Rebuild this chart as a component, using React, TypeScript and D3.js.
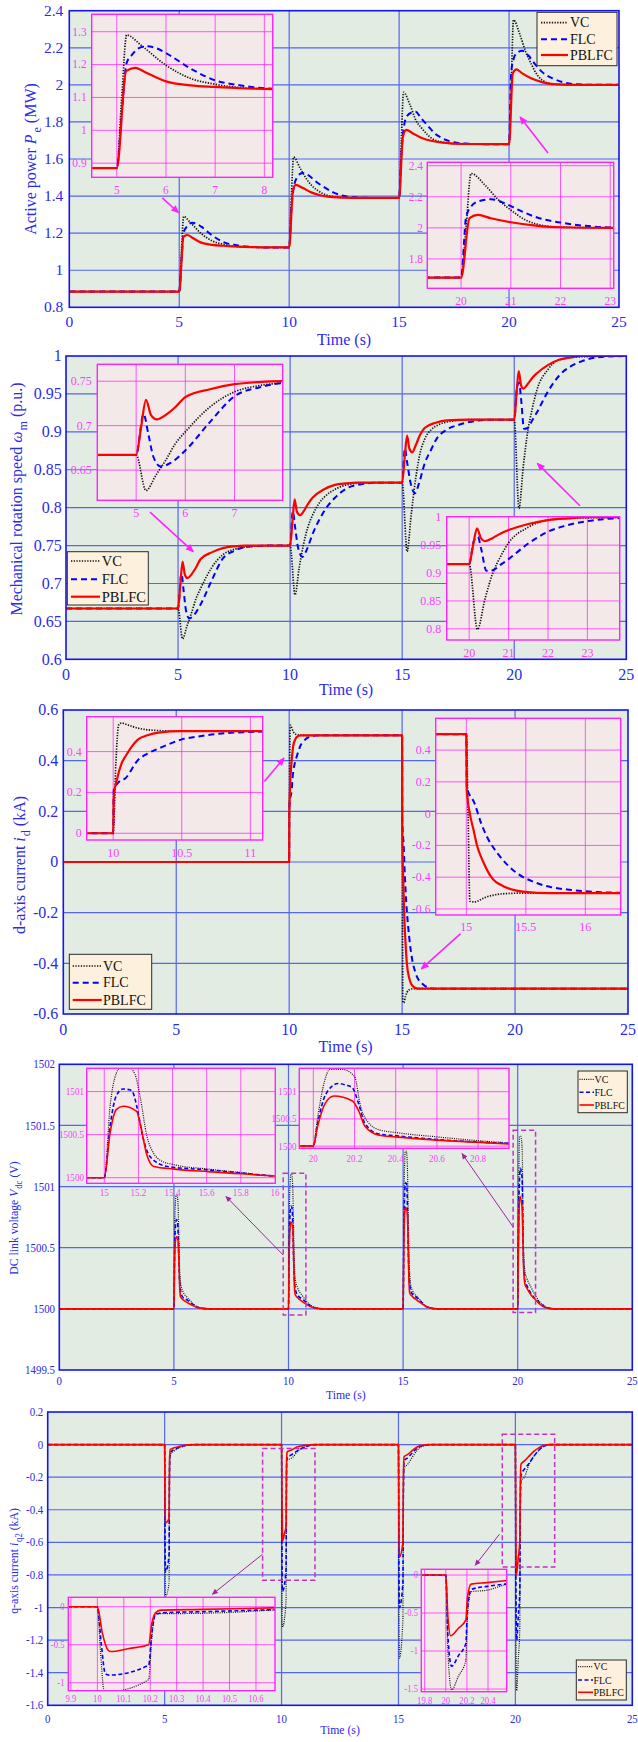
import React from 'react';
import * as d3 from 'd3';

type Pt = [number, number];

// ---------- time axis ----------
const timeTicks = [0, 5, 10, 15, 20, 25];

// ---------- active power Pe (MW) ----------
const peVC: Pt[] = [[0,0.885],[5,0.885],[5.1,1.1],[5.2,1.29],[5.5,1.258],[6,1.198],[6.5,1.158],[7,1.14],[7.5,1.13],[8,1.126],[9,1.123],[10,1.123],[10.1,1.4],[10.2,1.61],[10.5,1.55],[10.8,1.49],[11,1.46],[11.3,1.43],[11.5,1.415],[12,1.397],[12.5,1.391],[13,1.39],[15,1.39],[15.1,1.7],[15.2,1.96],[15.5,1.89],[15.8,1.8],[16,1.77],[16.3,1.73],[16.5,1.71],[17,1.69],[17.5,1.682],[18,1.68],[20,1.68],[20.1,2.0],[20.2,2.35],[20.48,2.276],[20.75,2.18],[21,2.115],[21.3,2.05],[21.5,2.026],[22,2.004],[23,2.0],[25,2.0]];
const peFLC: Pt[] = [[0,0.885],[5,0.885],[5.1,1.05],[5.2,1.205],[5.3,1.228],[5.45,1.25],[5.6,1.256],[5.8,1.25],[6,1.235],[6.5,1.188],[7,1.152],[7.5,1.137],[8,1.128],[9,1.123],[10,1.123],[10.1,1.33],[10.2,1.44],[10.35,1.5],[10.6,1.525],[10.9,1.51],[11.2,1.48],[11.5,1.455],[12,1.42],[12.5,1.4],[13,1.393],[14,1.39],[15,1.39],[15.1,1.62],[15.2,1.76],[15.35,1.83],[15.6,1.852],[15.75,1.855],[16,1.82],[16.3,1.78],[16.6,1.74],[17,1.71],[17.5,1.69],[18,1.683],[19,1.68],[20,1.68],[20.1,2.07],[20.2,2.137],[20.34,2.17],[20.6,2.184],[20.88,2.158],[21.16,2.115],[21.5,2.07],[22,2.034],[22.5,2.013],[23,2.003],[24,2.0],[25,2.0]];
const pePBLFC: Pt[] = [[0,0.885],[5,0.885],[5.19,1.18],[5.37,1.19],[5.6,1.175],[6,1.149],[6.5,1.137],[7,1.132],[7.5,1.128],[8,1.126],[9,1.123],[10,1.123],[10.17,1.43],[10.3,1.46],[10.6,1.445],[11,1.42],[11.5,1.402],[12,1.394],[13,1.39],[15,1.39],[15.17,1.72],[15.33,1.757],[15.6,1.74],[16,1.715],[16.5,1.697],[17,1.688],[18,1.681],[20,1.68],[20.17,2.062],[20.34,2.083],[20.6,2.062],[21,2.036],[21.5,2.015],[22,2.004],[23,2.0],[25,2.0]];
const peTicks = [0.8, 1, 1.2, 1.4, 1.6, 1.8, 2, 2.2, 2.4];

// ---------- mechanical speed wm (p.u.) ----------
const wmVC: Pt[] = [[0,0.667],[5,0.667],[5.2,0.627],[5.4,0.644],[5.6,0.661],[5.8,0.68],[6,0.693],[6.5,0.721],[7,0.738],[7.5,0.745],[8,0.748],[9,0.75],[10,0.75],[10.22,0.685],[10.4,0.72],[10.6,0.752],[10.8,0.775],[11,0.79],[11.3,0.806],[11.6,0.816],[12,0.824],[12.5,0.83],[13,0.832],[14,0.833],[15,0.833],[15.22,0.742],[15.4,0.79],[15.6,0.838],[15.8,0.872],[16,0.89],[16.3,0.903],[16.6,0.909],[17,0.913],[18,0.916],[20,0.916],[20.21,0.799],[20.4,0.853],[20.6,0.9],[20.8,0.93],[21,0.954],[21.5,0.982],[22,0.995],[23,0.999],[25,1.0]];
const wmFLC: Pt[] = [[0,0.667],[5,0.667],[5.15,0.713],[5.25,0.69],[5.35,0.665],[5.5,0.654],[5.7,0.658],[6,0.672],[6.5,0.704],[7,0.733],[7.5,0.743],[8,0.748],[9,0.75],[10,0.75],[10.12,0.795],[10.22,0.775],[10.35,0.748],[10.55,0.735],[10.75,0.745],[11,0.765],[11.3,0.784],[11.6,0.799],[12,0.813],[12.5,0.825],[13,0.83],[14,0.833],[15,0.833],[15.12,0.878],[15.22,0.86],[15.38,0.832],[15.57,0.819],[15.75,0.832],[16,0.858],[16.3,0.877],[16.5,0.889],[17,0.903],[17.5,0.909],[18,0.913],[19,0.916],[20,0.916],[20.12,0.958],[20.22,0.965],[20.3,0.945],[20.44,0.904],[20.6,0.905],[20.8,0.915],[21,0.925],[21.5,0.953],[22,0.974],[22.5,0.986],[23,0.993],[24,0.999],[25,1.0]];
const wmPBLFC: Pt[] = [[0,0.667],[5,0.667],[5.1,0.698],[5.2,0.729],[5.3,0.712],[5.42,0.707],[5.6,0.712],[5.8,0.721],[6,0.732],[6.5,0.741],[7,0.7466],[7.5,0.749],[8,0.75],[10,0.75],[10.1,0.78],[10.2,0.811],[10.3,0.795],[10.45,0.79],[10.6,0.795],[10.8,0.805],[11,0.813],[11.5,0.824],[12,0.83],[12.5,0.832],[13,0.833],[15,0.833],[15.1,0.862],[15.22,0.895],[15.32,0.878],[15.45,0.873],[15.6,0.882],[15.8,0.896],[16,0.905],[16.5,0.912],[17,0.915],[18,0.916],[20,0.916],[20.1,0.95],[20.2,0.98],[20.3,0.962],[20.4,0.957],[20.6,0.963],[20.8,0.971],[21,0.977],[21.5,0.988],[22,0.995],[22.5,0.998],[23,1.0],[25,1.0]];
const wmTicks = [0.6, 0.65, 0.7, 0.75, 0.8, 0.85, 0.9, 0.95, 1];

// ---------- d-axis current id (kA) ----------
const idVC: Pt[] = [[0,0],[10,0],[10.02,0.35],[10.04,0.53],[10.06,0.54],[10.1,0.532],[10.18,0.515],[10.3,0.504],[10.5,0.5],[15,0.5],[15.015,0],[15.03,-0.55],[15.07,-0.556],[15.15,-0.53],[15.3,-0.505],[15.5,-0.5],[25,-0.5]];
const idFLC: Pt[] = [[0,0],[10,0],[10.004,0.21],[10.04,0.25],[10.09,0.27],[10.18,0.358],[10.25,0.39],[10.33,0.415],[10.42,0.44],[10.5,0.46],[10.6,0.472],[10.77,0.488],[10.95,0.495],[11.15,0.499],[11.4,0.5],[15,0.5],[15.004,0.168],[15.07,0.063],[15.126,-0.063],[15.182,-0.158],[15.266,-0.253],[15.35,-0.326],[15.434,-0.379],[15.574,-0.432],[15.714,-0.463],[15.882,-0.48],[16.134,-0.495],[16.5,-0.5],[25,-0.5]];
const idPBLFC: Pt[] = [[0,0],[10,0],[10.004,0.18],[10.03,0.27],[10.06,0.34],[10.09,0.377],[10.13,0.42],[10.18,0.459],[10.25,0.48],[10.33,0.493],[10.5,0.5],[15,0.5],[15.004,0.15],[15.03,0.0],[15.06,-0.1],[15.09,-0.2],[15.14,-0.3],[15.21,-0.4],[15.32,-0.46],[15.49,-0.492],[15.7,-0.5],[25,-0.5]];
const idTicks = [-0.6, -0.4, -0.2, 0, 0.2, 0.4, 0.6];

// ---------- DC link voltage Vdc (V) ----------
const vdcVC: Pt[] = [[0,1500],[5,1500],[5.03,1500.6],[5.07,1500.88],[5.1,1500.93],[5.14,1500.93],[5.18,1500.86],[5.21,1500.65],[5.25,1500.33],[5.3,1500.2],[5.4,1500.14],[5.6,1500.09],[5.8,1500.05],[6,1500.02],[6.5,1500],[10,1500],[10.03,1500.7],[10.07,1501.03],[10.1,1501.1],[10.14,1501.1],[10.18,1501.02],[10.21,1500.79],[10.25,1500.4],[10.3,1500.24],[10.4,1500.17],[10.6,1500.11],[10.8,1500.06],[11,1500.025],[11.5,1500],[15,1500],[15.034,1500.83],[15.07,1501.21],[15.1,1501.29],[15.14,1501.29],[15.18,1501.2],[15.21,1500.94],[15.25,1500.48],[15.29,1500.28],[15.33,1500.2],[15.41,1500.15],[15.61,1500.1],[15.8,1500.06],[16,1500.02],[16.5,1500],[20,1500],[20.02,1500.5],[20.055,1501.2],[20.08,1501.41],[20.14,1501.41],[20.2,1501.28],[20.23,1500.72],[20.27,1500.42],[20.32,1500.3],[20.4,1500.25],[20.6,1500.17],[20.8,1500.1],[20.95,1500.06],[21.2,1500.02],[21.6,1500],[25,1500]];
const vdcFLC: Pt[] = [[0,1500],[5,1500],[5.03,1500.45],[5.07,1500.68],[5.11,1500.73],[5.16,1500.71],[5.19,1500.58],[5.23,1500.3],[5.27,1500.17],[5.37,1500.1],[5.6,1500.07],[5.8,1500.04],[6,1500.015],[6.5,1500],[10,1500],[10.03,1500.5],[10.07,1500.78],[10.11,1500.84],[10.16,1500.82],[10.19,1500.68],[10.23,1500.36],[10.27,1500.2],[10.37,1500.12],[10.6,1500.08],[10.8,1500.05],[11,1500.018],[11.5,1500],[15,1500],[15.034,1500.6],[15.07,1500.95],[15.11,1501.03],[15.15,1501.02],[15.17,1500.98],[15.19,1500.83],[15.23,1500.44],[15.27,1500.24],[15.37,1500.13],[15.61,1500.09],[15.8,1500.055],[16,1500.02],[16.5,1500],[20,1500],[20.02,1500.4],[20.06,1500.95],[20.12,1501.15],[20.16,1501.12],[20.19,1501.07],[20.22,1500.78],[20.25,1500.42],[20.32,1500.22],[20.4,1500.19],[20.6,1500.12],[20.8,1500.075],[20.95,1500.05],[21.2,1500.015],[21.6,1500],[25,1500]];
const vdcPBLFC: Pt[] = [[0,1500],[5,1500],[5.03,1500.37],[5.07,1500.56],[5.11,1500.59],[5.19,1500.55],[5.21,1500.45],[5.25,1500.19],[5.29,1500.1],[5.4,1500.075],[5.6,1500.05],[5.8,1500.03],[6,1500.012],[6.5,1500],[10,1500],[10.03,1500.44],[10.07,1500.67],[10.11,1500.71],[10.19,1500.66],[10.21,1500.54],[10.25,1500.22],[10.29,1500.12],[10.4,1500.09],[10.6,1500.06],[10.8,1500.035],[11,1500.015],[11.5,1500],[15,1500],[15.034,1500.52],[15.07,1500.79],[15.11,1500.83],[15.19,1500.77],[15.21,1500.63],[15.25,1500.26],[15.29,1500.13],[15.41,1500.1],[15.61,1500.07],[15.8,1500.045],[16,1500.02],[16.5,1500],[20,1500],[20.02,1500.35],[20.06,1500.8],[20.1,1500.92],[20.19,1500.83],[20.22,1500.65],[20.25,1500.37],[20.32,1500.2],[20.4,1500.17],[20.6,1500.11],[20.8,1500.07],[20.95,1500.04],[21.2,1500.012],[21.6,1500],[25,1500]];
const vdcTicks = [1499.5, 1500, 1500.5, 1501, 1501.5, 1502];

// ---------- q-axis current iq2 (kA) ----------
const iqVC: Pt[] = [[0,0],[5,0],[5.02,-0.75],[5.04,-0.93],[5.19,-0.85],[5.21,-0.18],[5.24,-0.06],[5.4,-0.04],[5.6,-0.022],[5.8,-0.011],[6,-0.004],[6.4,0],[10,0],[10.012,-0.6],[10.025,-1.1],[10.04,-1.12],[10.194,-0.96],[10.206,-0.4],[10.22,-0.09],[10.3,-0.09],[10.5,-0.075],[10.66,-0.045],[11,-0.015],[11.5,0],[15,0],[15.02,-0.95],[15.04,-1.31],[15.19,-1.08],[15.21,-0.35],[15.24,-0.145],[15.4,-0.12],[15.6,-0.075],[15.8,-0.035],[16,-0.012],[16.5,0],[20,0],[20.02,-1.0],[20.055,-1.51],[20.12,-1.33],[20.19,-1.12],[20.205,-0.55],[20.24,-0.22],[20.39,-0.2],[20.56,-0.13],[20.8,-0.07],[21,-0.035],[21.2,-0.012],[21.6,0],[25,0]];
const iqFLC: Pt[] = [[0,0],[5,0],[5.02,-0.6],[5.04,-0.78],[5.19,-0.68],[5.21,-0.15],[5.24,-0.05],[5.4,-0.03],[5.6,-0.018],[5.8,-0.009],[6,-0.003],[6.3,0],[10,0],[10.015,-0.5],[10.03,-0.88],[10.044,-0.9],[10.194,-0.77],[10.206,-0.35],[10.22,-0.1],[10.25,-0.08],[10.4,-0.065],[10.66,-0.04],[11,-0.015],[11.5,0],[15,0],[15.02,-0.75],[15.04,-1.0],[15.19,-0.85],[15.21,-0.3],[15.24,-0.1],[15.4,-0.08],[15.6,-0.05],[15.8,-0.022],[16,-0.008],[16.4,0],[20,0],[20.02,-0.8],[20.055,-1.2],[20.12,-1.06],[20.19,-0.9],[20.205,-0.45],[20.24,-0.19],[20.39,-0.15],[20.56,-0.12],[20.8,-0.07],[21,-0.035],[21.2,-0.012],[21.5,0],[25,0]];
const iqPBLFC: Pt[] = [[0,0],[5,0],[5.02,-0.4],[5.04,-0.48],[5.19,-0.45],[5.21,-0.1],[5.24,-0.03],[5.4,-0.02],[5.6,-0.012],[5.8,-0.006],[6,-0.002],[6.3,0],[10,0],[10.019,-0.35],[10.04,-0.57],[10.05,-0.59],[10.12,-0.55],[10.194,-0.5],[10.206,-0.22],[10.22,-0.08],[10.24,-0.045],[10.4,-0.035],[10.66,-0.015],[11,-0.005],[11.4,0],[15,0],[15.02,-0.5],[15.04,-0.69],[15.19,-0.6],[15.21,-0.2],[15.24,-0.075],[15.4,-0.06],[15.6,-0.035],[15.8,-0.015],[16,-0.005],[16.3,0],[20,0],[20.02,-0.55],[20.046,-0.8],[20.12,-0.7],[20.19,-0.59],[20.205,-0.3],[20.24,-0.12],[20.39,-0.1],[20.56,-0.075],[20.8,-0.04],[21,-0.02],[21.2,-0.006],[21.5,0],[25,0]];
const iqTicks = [-1.6, -1.4, -1.2, -1, -0.8, -0.6, -0.4, -0.2, 0, 0.2];

const legendNames = ['VC', 'FLC', 'PBLFC'];

// ---------- styling ----------
const FONT = '"Liberation Serif", "Times New Roman", serif';
const AX_BLUE = '#1414ee';
const TXT_BLUE = '#2a2aee';
const GRID_BLUE = '#5566f2';
const MAIN_BG = '#e3ece3';
const INSET_BG = '#f4e9e9';
const MAGENTA = '#ff22ff';
const MAG_TXT = '#ff3cff';
const PURPLE = '#a322a3';

type LineSty = { stroke: string; w: number; dash?: string };
const styleSet = (thin: boolean): LineSty[] =>
  thin
    ? [
        { stroke: '#111', w: 1.2, dash: '1 1.2' },
        { stroke: '#0000ff', w: 1.6, dash: '4 2.5' },
        { stroke: '#ff0000', w: 1.6 },
      ]
    : [
        { stroke: '#111', w: 1.7, dash: '1.3 1.4' },
        { stroke: '#0000ff', w: 2, dash: '6 4' },
        { stroke: '#ff0000', w: 2.2 },
      ];

type Box = [number, number, number, number];
interface InsetCfg {
  box: Box;
  xDomain: [number, number];
  yDomain: [number, number];
  xTicks: number[];
  yTicks: number[];
  font: number;
  xLabelDy: number;
  yLabelDx: number;
  sx: number;
}
interface PanelCfg {
  box: Box;
  yDomain: [number, number];
  yTicks: number[];
  series: Pt[][];
  thin: boolean;
  tickFont: number;
  sx: number;
  xLabelDy: number;
  yLabelDx: number;
  xTitleDy: number;
  titleFont: number;
  yTitle: React.ReactNode;
  yTitleX: number;
  yTitleY: number;
  legend: { box: Box; rows: number[]; lx0: number; lx1: number; tx: number; font: number; sx: number };
  insets: InsetCfg[];
  arrows: [Pt, Pt][];
  arrowColor: string;
  arrowW: number;
  marker: string;
  zoomBoxes: [number, number, number, number][]; // t0, t1, v0, v1
}

const sub = (s: string, size: number, shift: number) => (
  <tspan dy={shift} fontSize={size}>{s}</tspan>
);

const panels: PanelCfg[] = [
  {
    box: [69.3, 10.7, 619, 307.3],
    yDomain: [0.8, 2.4],
    yTicks: peTicks,
    series: [peVC, peFLC, pePBLFC],
    thin: false,
    tickFont: 15.5,
    sx: 1,
    xLabelDy: 19.5,
    yLabelDx: 6,
    xTitleDy: 38,
    titleFont: 16,
    yTitle: (
      <>
        Active power <tspan fontStyle="italic">P</tspan>
        <tspan dx={2} dy={5} fontSize={12}>e</tspan>
        <tspan dy={-5}> (MW)</tspan>
      </>
    ),
    yTitleX: 35.5,
    yTitleY: 159,
    legend: { box: [537, 12.3, 617, 65.7], rows: [22.7, 39.3, 55], lx0: 541, lx1: 568, tx: 570, font: 14, sx: 1 },
    insets: [
      { box: [91.7, 14.3, 272.7, 177.3], xDomain: [4.49, 8.17], yDomain: [0.857, 1.353], xTicks: [5, 6, 7, 8], yTicks: [0.9, 1, 1.1, 1.2, 1.3], font: 11.5, xLabelDy: 16.7, yLabelDx: 5, sx: 1 },
      { box: [427.3, 162.3, 613.7, 288.3], xDomain: [19.32, 23.07], yDomain: [1.611, 2.422], xTicks: [20, 21, 22, 23], yTicks: [1.8, 2, 2.2, 2.4], font: 11.5, xLabelDy: 16.7, yLabelDx: 4.3, sx: 1 },
    ],
    arrows: [
      [[4.23, 1.39], [4.97, 1.31]],
      [[21.77, 1.632], [20.5, 1.827]],
    ],
    arrowColor: MAGENTA,
    arrowW: 1.6,
    marker: 'arrow-mag',
    zoomBoxes: [],
  },
  {
    box: [66, 356, 626.3, 659.3],
    yDomain: [0.6, 1],
    yTicks: wmTicks,
    series: [wmVC, wmFLC, wmPBLFC],
    thin: false,
    tickFont: 16,
    sx: 1,
    xLabelDy: 20.7,
    yLabelDx: 4.3,
    xTitleDy: 35.7,
    titleFont: 16,
    yTitle: (
      <>
        Mechanical rotation speed <tspan fontStyle="italic">ω</tspan>
        <tspan dx={1} dy={5} fontSize={12}>m</tspan>
        <tspan dy={-5}> (p.u.)</tspan>
      </>
    ),
    yTitleX: 21.5,
    yTitleY: 499,
    legend: { box: [67.3, 551.7, 148.3, 605], rows: [561, 579.3, 596.7], lx0: 71, lx1: 100, tx: 101.7, font: 14.5, sx: 1 },
    insets: [
      { box: [97.3, 364.3, 282.7, 500.3], xDomain: [4.21, 7.98], yDomain: [0.616, 0.769], xTicks: [5, 6, 7], yTicks: [0.65, 0.7, 0.75], font: 12, xLabelDy: 16.4, yLabelDx: 5.6, sx: 1 },
      { box: [446.7, 516.7, 619.7, 640], xDomain: [19.43, 23.82], yDomain: [0.78, 1.001], xTicks: [20, 21, 22, 23], yTicks: [0.8, 0.85, 0.9, 0.95, 1], font: 12, xLabelDy: 16.7, yLabelDx: 5.4, sx: 1 },
    ],
    arrows: [
      [[3.75, 0.794], [5.68, 0.742]],
      [[22.93, 0.8025], [21.03, 0.8584]],
    ],
    arrowColor: MAGENTA,
    arrowW: 1.6,
    marker: 'arrow-mag',
    zoomBoxes: [],
  },
  {
    box: [63.3, 710, 628, 1014],
    yDomain: [-0.6, 0.6],
    yTicks: idTicks,
    series: [idVC, idFLC, idPBLFC],
    thin: false,
    tickFont: 16,
    sx: 1,
    xLabelDy: 21,
    yLabelDx: 5,
    xTitleDy: 38,
    titleFont: 16,
    yTitle: (
      <>
        d-axis current <tspan fontStyle="italic">i</tspan>
        <tspan dx={1} dy={5} fontSize={12}>d</tspan>
        <tspan dy={-5}> (kA)</tspan>
      </>
    ),
    yTitleX: 25,
    yTitleY: 865,
    legend: { box: [69.3, 954.3, 151.7, 1009.3], rows: [966, 982.7, 1000], lx0: 72.7, lx1: 101.7, tx: 103, font: 14, sx: 1 },
    insets: [
      { box: [86.7, 716.7, 262.7, 840], xDomain: [9.807, 11.09], yDomain: [-0.033, 0.571], xTicks: [10, 10.5, 11], yTicks: [0, 0.2, 0.4], font: 12, xLabelDy: 16.7, yLabelDx: 5, sx: 1 },
      { box: [435.7, 718.3, 620.7, 915], xDomain: [14.743, 16.297], yDomain: [-0.638, 0.6], xTicks: [15, 15.5, 16], yTicks: [-0.6, -0.4, -0.2, 0, 0.2, 0.4], font: 12, xLabelDy: 15.7, yLabelDx: 5, sx: 1 },
    ],
    arrows: [
      [[8.9, 0.318], [9.77, 0.41]],
      [[17.59, -0.283], [15.85, -0.422]],
    ],
    arrowColor: MAGENTA,
    arrowW: 1.6,
    marker: 'arrow-mag',
    zoomBoxes: [],
  },
  {
    box: [59.3, 1064.3, 632.3, 1370],
    yDomain: [1499.5, 1502],
    yTicks: vdcTicks,
    series: [vdcVC, vdcFLC, vdcPBLFC],
    thin: true,
    tickFont: 12.5,
    sx: 0.87,
    xLabelDy: 15,
    yLabelDx: 4.3,
    xTitleDy: 29,
    titleFont: 13.5,
    yTitle: (
      <>
        DC link voltage <tspan fontStyle="italic">V</tspan>
        <tspan dx={1} dy={4} fontSize={10}>dc</tspan>
        <tspan dy={-4}> (V)</tspan>
      </>
    ),
    yTitleX: 18,
    yTitleY: 1218,
    legend: { box: [578, 1071, 627.3, 1112.7], rows: [1079.3, 1092.3, 1105], lx0: 579.5, lx1: 594, tx: 594.5, font: 11, sx: 0.9 },
    insets: [
      { box: [86.7, 1068.3, 275.3, 1183.3], xDomain: [14.897, 16.002], yDomain: [1499.935, 1501.27], xTicks: [15, 15.2, 15.4, 15.6, 15.8, 16], yTicks: [1500, 1500.5, 1501], font: 10.5, xLabelDy: 12.7, yLabelDx: 2.7, sx: 0.87 },
      { box: [299.3, 1068.3, 509, 1148.3], xDomain: [19.932, 20.95], yDomain: [1499.96, 1501.43], xTicks: [20, 20.2, 20.4, 20.6, 20.8], yTicks: [1500, 1500.5, 1501], font: 10.5, xLabelDy: 13.4, yLabelDx: 2.7, sx: 0.87 },
    ],
    arrows: [
      [[9.77, 1500.44], [7.27, 1500.92]],
      [[19.8, 1500.67], [17.57, 1501.27]],
    ],
    arrowColor: PURPLE,
    arrowW: 1,
    marker: 'arrow-pur',
    zoomBoxes: [
      [9.77, 10.76, 1499.95, 1501.11],
      [19.8, 20.78, 1499.97, 1501.46],
    ],
  },
  {
    box: [47.7, 1412, 632.3, 1705.3],
    yDomain: [-1.6, 0.2],
    yTicks: iqTicks,
    series: [iqVC, iqFLC, iqPBLFC],
    thin: true,
    tickFont: 12.5,
    sx: 0.87,
    xLabelDy: 17.7,
    yLabelDx: 4.4,
    xTitleDy: 29,
    titleFont: 13.5,
    yTitle: (
      <>
        q-axis current <tspan fontStyle="italic">i</tspan>
        <tspan dx={1} dy={4} fontSize={10}>q2</tspan>
        <tspan dy={-4}> (kA)</tspan>
      </>
    ),
    yTitleX: 18,
    yTitleY: 1561,
    legend: { box: [576.3, 1660, 626.3, 1700], rows: [1666.7, 1680, 1692.3], lx0: 578, lx1: 593, tx: 593.5, font: 11, sx: 0.9 },
    insets: [
      { box: [68.3, 1597.3, 275, 1690.7], xDomain: [9.89, 10.672], yDomain: [-1.105, 0.124], xTicks: [9.9, 10, 10.1, 10.2, 10.3, 10.4, 10.5, 10.6], yTicks: [-1, -0.5, 0], font: 10, xLabelDy: 11, yLabelDx: 3.8, sx: 0.87 },
      { box: [421.3, 1569.3, 506.7, 1691.7], xDomain: [19.768, 20.577], yDomain: [-1.535, 0.075], xTicks: [19.8, 20, 20.2, 20.4], yTicks: [-1.5, -1, -0.5, 0], font: 10, xLabelDy: 12.3, yLabelDx: 3.3, sx: 0.87 },
    ],
    arrows: [
      [[9.19, -0.673], [7.04, -0.919]],
      [[19.32, -0.55], [18.28, -0.741]],
    ],
    arrowColor: PURPLE,
    arrowW: 1,
    marker: 'arrow-pur',
    zoomBoxes: [
      [9.19, 11.43, -0.833, -0.0245],
      [19.44, 21.68, -0.751, 0.063],
    ],
  },
];

type Scale = d3.ScaleLinear<number, number>;

const makeLine = (xs: Scale, ys: Scale) =>
  d3
    .line<Pt>()
    .x((d) => xs(d[0]))
    .y((d) => ys(d[1]))
    .curve(d3.curveMonotoneX);

function Txt(props: {
  x: number;
  y: number;
  size: number;
  fill: string;
  anchor?: 'start' | 'middle' | 'end';
  sx?: number;
  rotate?: number;
  children: React.ReactNode;
}) {
  const { x, y, size, fill, anchor = 'middle', sx = 1, rotate = 0, children } = props;
  const tr = `translate(${x},${y})${rotate ? ` rotate(${rotate})` : ''} scale(${sx},1)`;
  return (
    <text transform={tr} fontFamily={FONT} fontSize={size} fill={fill} textAnchor={anchor}>
      {children}
    </text>
  );
}

function SeriesLines({ series, xs, ys, sty, clip }: { series: Pt[][]; xs: Scale; ys: Scale; sty: LineSty[]; clip: string }) {
  const gen = makeLine(xs, ys);
  return (
    <g clipPath={`url(#${clip})`}>
      {series.map((s, i) => (
        <path
          key={i}
          d={gen(s) || ''}
          fill="none"
          stroke={sty[i].stroke}
          strokeWidth={sty[i].w}
          strokeDasharray={sty[i].dash}
          strokeLinejoin="round"
        />
      ))}
    </g>
  );
}

function Inset({ ins, series, sty, id }: { ins: InsetCfg; series: Pt[][]; sty: LineSty[]; id: string }) {
  const [x0, y0, x1, y1] = ins.box;
  const xs = d3.scaleLinear().domain(ins.xDomain).range([x0, x1]);
  const ys = d3.scaleLinear().domain(ins.yDomain).range([y1, y0]);
  const inside = (p: number, a: number, b: number) => p > a + 1.5 && p < b - 1.5;
  return (
    <g>
      <defs>
        <clipPath id={id}>
          <rect x={x0} y={y0} width={x1 - x0} height={y1 - y0} />
        </clipPath>
      </defs>
      <rect x={x0} y={y0} width={x1 - x0} height={y1 - y0} fill={INSET_BG} />
      {ins.xTicks.filter((t) => inside(xs(t), x0, x1)).map((t) => (
        <line key={'gx' + t} x1={xs(t)} x2={xs(t)} y1={y0} y2={y1} stroke={MAGENTA} strokeOpacity={0.75} strokeWidth={1} />
      ))}
      {ins.yTicks.filter((t) => inside(ys(t), y0, y1)).map((t) => (
        <line key={'gy' + t} x1={x0} x2={x1} y1={ys(t)} y2={ys(t)} stroke={MAGENTA} strokeOpacity={0.75} strokeWidth={1} />
      ))}
      <SeriesLines series={series} xs={xs} ys={ys} sty={sty} clip={id} />
      <rect x={x0} y={y0} width={x1 - x0} height={y1 - y0} fill="none" stroke={MAGENTA} strokeWidth={1.4} />
      {ins.xTicks.map((t) => (
        <Txt key={'lx' + t} x={xs(t)} y={y1 + ins.xLabelDy} size={ins.font} fill={MAG_TXT} sx={ins.sx}>
          {String(t)}
        </Txt>
      ))}
      {ins.yTicks.map((t) => (
        <Txt key={'ly' + t} x={x0 - ins.yLabelDx} y={ys(t) + ins.font * 0.33} size={ins.font} fill={MAG_TXT} anchor="end" sx={ins.sx}>
          {String(t)}
        </Txt>
      ))}
    </g>
  );
}

function Panel({ cfg, idx }: { cfg: PanelCfg; idx: number }) {
  const [x0, y0, x1, y1] = cfg.box;
  const xs = d3.scaleLinear().domain([0, 25]).range([x0, x1]);
  const ys = d3.scaleLinear().domain(cfg.yDomain).range([y1, y0]);
  const sty = styleSet(cfg.thin);
  const clip = `clip-main-${idx}`;
  const lg = cfg.legend;
  return (
    <g>
      <defs>
        <clipPath id={clip}>
          <rect x={x0} y={y0} width={x1 - x0} height={y1 - y0} />
        </clipPath>
      </defs>
      <rect x={x0} y={y0} width={x1 - x0} height={y1 - y0} fill={MAIN_BG} />
      {timeTicks.slice(1, -1).map((t) => (
        <line key={'gx' + t} x1={xs(t)} x2={xs(t)} y1={y0} y2={y1} stroke={GRID_BLUE} strokeWidth={1.2} />
      ))}
      {cfg.yTicks.slice(1, -1).map((t) => (
        <line key={'gy' + t} x1={x0} x2={x1} y1={ys(t)} y2={ys(t)} stroke={GRID_BLUE} strokeWidth={1.2} />
      ))}
      <SeriesLines series={cfg.series} xs={xs} ys={ys} sty={sty} clip={clip} />
      <rect x={x0} y={y0} width={x1 - x0} height={y1 - y0} fill="none" stroke={AX_BLUE} strokeWidth={1.6} />
      {timeTicks.map((t) => (
        <Txt key={'tx' + t} x={xs(t)} y={y1 + cfg.xLabelDy} size={cfg.tickFont} fill={TXT_BLUE} sx={cfg.sx}>
          {String(t)}
        </Txt>
      ))}
      {cfg.yTicks.map((t) => (
        <Txt key={'ty' + t} x={x0 - cfg.yLabelDx} y={ys(t) + cfg.tickFont * 0.33} size={cfg.tickFont} fill={TXT_BLUE} anchor="end" sx={cfg.sx}>
          {String(t)}
        </Txt>
      ))}
      <Txt x={(x0 + x1) / 2} y={y1 + cfg.xTitleDy} size={cfg.titleFont} fill={TXT_BLUE} sx={cfg.sx}>
        Time (s)
      </Txt>
      <Txt x={cfg.yTitleX} y={cfg.yTitleY} size={cfg.titleFont} fill={TXT_BLUE} rotate={-90} sx={cfg.sx}>
        {cfg.yTitle}
      </Txt>
      {cfg.zoomBoxes.map(([t0, t1, v0, v1], i) => (
        <rect
          key={'zb' + i}
          x={xs(t0)}
          y={ys(v1)}
          width={xs(t1) - xs(t0)}
          height={ys(v0) - ys(v1)}
          fill="none"
          stroke="#c233c2"
          strokeWidth={1.5}
          strokeDasharray="5 3"
        />
      ))}
      {cfg.insets.map((ins, i) => (
        <Inset key={'in' + i} ins={ins} series={cfg.series} sty={sty} id={`clip-in-${idx}-${i}`} />
      ))}
      {cfg.arrows.map(([a, b], i) => (
        <line
          key={'ar' + i}
          x1={xs(a[0])}
          y1={ys(a[1])}
          x2={xs(b[0])}
          y2={ys(b[1])}
          stroke={cfg.arrowColor}
          strokeWidth={cfg.arrowW}
          markerEnd={`url(#${cfg.marker})`}
        />
      ))}
      <rect
        x={lg.box[0]}
        y={lg.box[1]}
        width={lg.box[2] - lg.box[0]}
        height={lg.box[3] - lg.box[1]}
        fill="#fdf1dd"
        stroke="#2a2a2a"
        strokeWidth={1}
      />
      {legendNames.map((name, i) => (
        <g key={name}>
          <line
            x1={lg.lx0}
            x2={lg.lx1}
            y1={lg.rows[i]}
            y2={lg.rows[i]}
            stroke={sty[i].stroke}
            strokeWidth={sty[i].w}
            strokeDasharray={sty[i].dash}
          />
          <Txt x={lg.tx} y={lg.rows[i] + lg.font * 0.34} size={lg.font} fill="#111" anchor="start" sx={lg.sx}>
            {name}
          </Txt>
        </g>
      ))}
    </g>
  );
}

export default function App() {
  return (
    <svg
      width={638}
      height={1742}
      viewBox="0 0 638 1742"
      style={{ position: 'absolute', left: 0, top: 0, background: '#ffffff' }}
    >
      <defs>
        <marker id="arrow-mag" viewBox="0 0 10 10" refX="9" refY="5" markerWidth="10" markerHeight="8" markerUnits="userSpaceOnUse" orient="auto">
          <path d="M0,0.5 L10,5 L0,9.5 z" fill={MAGENTA} />
        </marker>
        <marker id="arrow-pur" viewBox="0 0 10 10" refX="9" refY="5" markerWidth="8" markerHeight="6" markerUnits="userSpaceOnUse" orient="auto">
          <path d="M0,0.5 L10,5 L0,9.5 z" fill={PURPLE} />
        </marker>
      </defs>
      {panels.map((p, i) => (
        <Panel key={i} cfg={p} idx={i} />
      ))}
    </svg>
  );
}
